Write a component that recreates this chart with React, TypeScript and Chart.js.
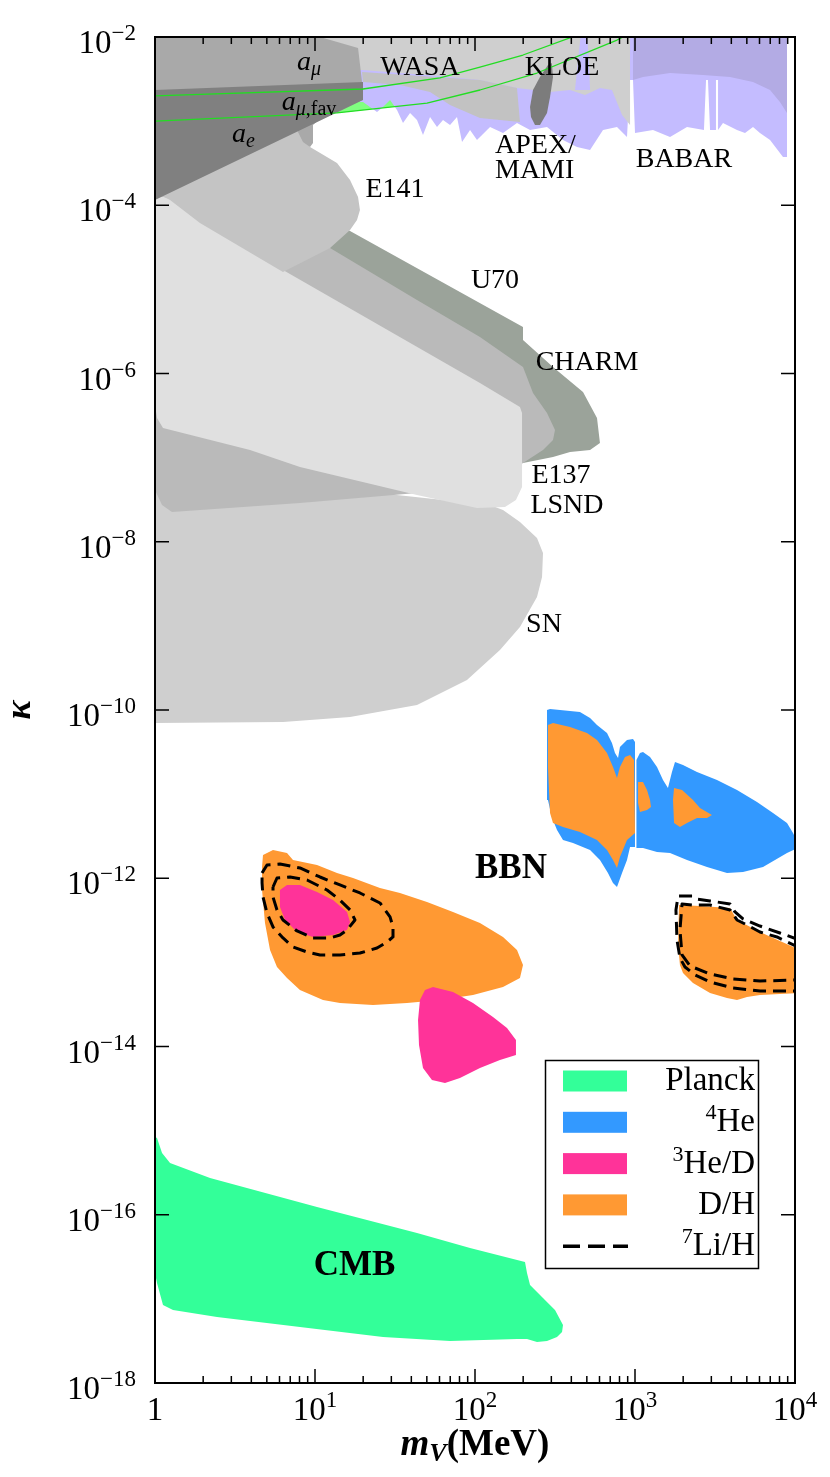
import React, { useEffect, useRef } from 'react';
import { Chart, registerables } from 'chart.js';

Chart.register(...registerables);

// Every point is [log10(m_V / MeV), log10(kappa)]
type P = [number, number];

// ---------- axes ----------
const X_MIN = 1;
const X_MAX = 1e4;
const Y_MIN = 1e-18;
const Y_MAX = 1e-2;
const X_TICK_EXP = [0, 1, 2, 3, 4];
const X_MINOR_MULT = [2, 3, 4, 5, 6, 7, 8, 9];
const Y_TICK_EXP = [-2, -4, -6, -8, -10, -12, -14, -16, -18];

// ---------- colours ----------
const C_PLANCK = '#33ff99';
const C_HE4 = '#3399ff';
const C_HE3 = '#ff3399';
const C_DH = '#ff9933';

// ---------- (g-2) bands ----------
const A_MU_FAV_UPPER: P[] = [[0, -2.701], [1.3, -2.618], [1.781, -2.487], [2.031, -2.357], [2.3, -2.214], [2.625, -1.988]];
const A_MU_FAV_LOWER: P[] = [[0, -3.0], [1.1375, -2.903], [1.7, -2.785], [2.031, -2.63], [2.3875, -2.428], [2.8875, -2.036], [2.9375, -1.988]];

const A_MU: P[] = [[0, -1.917], [0.9875, -1.976], [1.269, -2.131], [1.294, -2.535], [1.3, -2.749], [1.094, -2.868], [0.9875, -3.046], [0.9875, -3.26], [0.969, -3.308], [0.925, -3.248], [0.8875, -3.105], [0, -3.224]];
const A_E: P[] = [[0, -2.63], [1.3, -2.535], [1.3, -2.749], [0, -3.938]];

// ---------- collider / fixed-target searches ----------
const SEARCHES: P[] = [[1.281, -1.917], [3.95, -1.917], [3.95, -3.426], [3.925, -3.426], [3.844, -3.224], [3.781, -3.141], [3.7375, -3.07], [3.6875, -3.141], [3.6375, -3.105], [3.55, -3.022], [3.519, -3.105], [3.519, -2.511], [3.506, -2.511], [3.506, -3.105], [3.469, -3.105], [3.456, -2.511], [3.444, -2.511], [3.431, -3.105], [3.325, -3.07], [3.219, -3.189], [3.1125, -3.105], [3.0, -3.141], [2.9875, -2.511], [2.969, -2.511], [2.95, -3.189], [2.8875, -3.07], [2.8, -3.105], [2.719, -3.343], [2.6375, -3.308], [2.55, -3.224], [2.45, -3.07], [2.344, -3.105], [2.2625, -3.022], [2.175, -3.141], [2.094, -3.07], [2.0125, -3.224], [1.969, -3.105], [1.919, -3.248], [1.8875, -2.951], [1.844, -3.046], [1.8, -2.987], [1.7625, -3.07], [1.719, -2.951], [1.675, -3.165], [1.6375, -2.987], [1.594, -2.903], [1.55, -3.022], [1.5125, -2.868], [1.469, -2.749], [1.425, -2.832], [1.3875, -2.892], [1.3, -2.773], [1.281, -2.773]];
const WASA: P[] = [[0.906, -1.917], [2.969, -1.917], [2.969, -3.046], [2.919, -2.927], [2.856, -2.63], [2.781, -2.606], [2.6875, -2.689], [2.594, -2.63], [2.469, -2.654], [2.2625, -2.606], [2.031, -2.511], [1.781, -2.464], [1.531, -2.428], [1.294, -2.392], [0.906, -2.392]];
const WASA_LOW: P[] = [[1.294, -2.416], [2.031, -2.511], [2.2625, -2.606], [2.281, -3.01], [2.031, -2.963], [1.844, -2.808], [1.719, -2.654], [1.531, -2.571], [1.3, -2.535]];
const APEX_SPIKE: P[] = [[2.625, -2.63], [2.644, -2.273], [2.6625, -1.95], [2.7, -1.95], [2.7125, -2.333], [2.719, -2.63]];
const BABAR: P[] = [[2.9875, -1.917], [3.95, -1.917], [3.95, -2.903], [3.906, -2.773], [3.844, -2.63], [3.7375, -2.535], [3.594, -2.475], [3.425, -2.452], [3.219, -2.428], [3.05, -2.475], [2.9875, -2.511]];
const KLOE: P[] = [[2.48, -2.309], [2.4875, -2.475], [2.469, -2.713], [2.45, -2.903], [2.406, -3.046], [2.375, -3.046], [2.35, -2.951], [2.344, -2.832], [2.3625, -2.63], [2.406, -2.475], [2.456, -2.333]];

// ---------- beam dumps / supernova ----------
const SN: P[] = [[0, -10.155], [0.8, -10.143], [1.219, -10.083], [1.6375, -9.941], [1.95, -9.643], [2.156, -9.287], [2.281, -9.013], [2.3875, -8.657], [2.419, -8.419], [2.425, -8.134], [2.3875, -7.955], [2.281, -7.765], [2.175, -7.623], [2.094, -7.563], [1.219, -7.385], [0, -7.385]];
const U70: P[] = [[0.594, -3.759], [1.219, -4.306], [2.3, -5.447], [2.3, -5.602], [2.4875, -5.923], [2.675, -6.22], [2.7625, -6.529], [2.781, -6.826], [2.719, -6.909], [2.594, -6.933], [2.4875, -6.993], [2.3, -7.064], [1.531, -6.315], [0.594, -5.126]];
const E137: P[] = [[0, -3.581], [1.094, -4.508], [1.6375, -5.126], [2.031, -5.566], [2.3, -5.923], [2.3625, -6.232], [2.45, -6.47], [2.5, -6.672], [2.4875, -6.79], [2.425, -6.909], [2.3, -7.064], [2.156, -7.266], [1.6375, -7.42], [0.906, -7.539], [0.106, -7.646], [0.044, -7.563], [0, -7.385]];
const LSND: P[] = [[0, -3.878], [0.281, -3.997], [0.8, -4.77], [2.031, -6.113], [2.281, -6.398], [2.294, -6.47], [2.294, -7.349], [2.256, -7.504], [2.1875, -7.587], [2.0125, -7.599], [1.6375, -7.444], [0.906, -7.111], [0.594, -6.909], [0.05, -6.648], [0.0125, -6.529], [0, -6.374]];
const E141: P[] = [[0, -3.224], [0.594, -3.046], [0.8875, -3.082], [0.969, -3.308], [1.1375, -3.498], [1.219, -3.7], [1.269, -3.902], [1.281, -4.057], [1.2625, -4.175], [1.219, -4.294], [1.094, -4.508], [0.8, -4.793], [0.281, -4.211], [0.094, -3.938], [0.031, -3.878]];

// ---------- CMB ----------
const CMB: P[] = [[0, -15.076], [0.0125, -15.088], [0.044, -15.267], [0.094, -15.386], [0.344, -15.564], [1.0125, -15.908], [1.6375, -16.217], [1.969, -16.395], [2.3125, -16.562], [2.325, -16.693], [2.344, -16.835], [2.425, -16.99], [2.5, -17.132], [2.55, -17.31], [2.544, -17.394], [2.5125, -17.453], [2.45, -17.501], [2.3875, -17.513], [2.325, -17.477], [2.2625, -17.477], [1.844, -17.501], [1.425, -17.453], [0.906, -17.334], [0.3875, -17.215], [0.1125, -17.132], [0.05, -17.073], [0.0125, -16.811], [0, -16.693]];

// ---------- BBN: 4He ----------
const HE4_A: P[] = [[2.45, -10.0], [2.469, -9.988], [2.656, -10.024], [2.719, -10.095], [2.7625, -10.178], [2.825, -10.273], [2.856, -10.392], [2.875, -10.511], [2.894, -10.571], [2.906, -10.44], [2.95, -10.357], [2.9875, -10.345], [3.0, -10.38], [3.0, -11.629], [2.969, -11.629], [2.95, -11.783], [2.919, -11.938], [2.8875, -12.104], [2.8625, -12.056], [2.831, -11.938], [2.781, -11.783], [2.719, -11.664], [2.6125, -11.581], [2.55, -11.545], [2.5125, -11.426], [2.48, -11.272], [2.456, -11.07], [2.45, -10.677]];
const HE4_B: P[] = [[3.009, -10.594], [3.031, -10.511], [3.05, -10.499], [3.094, -10.559], [3.1375, -10.677], [3.175, -10.832], [3.206, -10.927], [3.231, -10.737], [3.25, -10.618], [3.3, -10.654], [3.3875, -10.737], [3.5125, -10.832], [3.6375, -10.951], [3.7625, -11.094], [3.8625, -11.224], [3.95, -11.343], [3.9875, -11.462], [4.03, -11.629], [3.95, -11.7], [3.8, -11.866], [3.675, -11.926], [3.575, -11.938], [3.45, -11.866], [3.325, -11.783], [3.219, -11.7], [3.1375, -11.688], [3.05, -11.64], [3.009, -11.64]];

// ---------- BBN: D/H ----------
const DH_A: P[] = [[2.456, -10.178], [2.4875, -10.155], [2.594, -10.202], [2.7, -10.273], [2.7625, -10.357], [2.825, -10.511], [2.8625, -10.677], [2.8875, -10.808], [2.906, -10.677], [2.9375, -10.559], [2.969, -10.535], [2.994, -10.594], [3.0, -11.462], [2.95, -11.545], [2.906, -11.747], [2.8875, -11.878], [2.8625, -11.783], [2.825, -11.664], [2.7625, -11.545], [2.656, -11.45], [2.55, -11.391], [2.4875, -11.343], [2.469, -11.224], [2.456, -10.677]];
const DH_B: P[] = [[3.019, -10.856], [3.05, -10.856], [3.075, -10.951], [3.094, -11.07], [3.1, -11.153], [3.075, -11.189], [3.031, -11.212], [3.019, -11.105]];
const DH_C: P[] = [[3.244, -10.927], [3.294, -10.951], [3.3625, -11.07], [3.406, -11.165], [3.481, -11.248], [3.45, -11.284], [3.3875, -11.284], [3.325, -11.343], [3.281, -11.391], [3.244, -11.343], [3.2375, -11.07]];
const DH_D: P[] = [[0.675, -11.724], [0.7375, -11.664], [0.825, -11.7], [0.8625, -11.783], [1.0125, -11.842], [1.1375, -11.938], [1.2375, -11.997], [1.406, -12.116], [1.531, -12.175], [1.7, -12.282], [1.8625, -12.401], [2.031, -12.532], [2.175, -12.698], [2.2625, -12.853], [2.3, -13.031], [2.281, -13.186], [2.175, -13.293], [1.9875, -13.388], [1.781, -13.447], [1.575, -13.483], [1.3625, -13.507], [1.156, -13.483], [1.05, -13.447], [0.906, -13.328], [0.825, -13.186], [0.7625, -13.055], [0.719, -12.853], [0.6875, -12.532], [0.669, -12.14], [0.669, -11.866]];
const DH_E: P[] = [[3.275, -12.318], [3.406, -12.33], [3.594, -12.354], [3.6375, -12.496], [3.781, -12.639], [4.03, -12.853], [4.03, -13.364], [3.781, -13.388], [3.7, -13.412], [3.6375, -13.447], [3.575, -13.423], [3.469, -13.364], [3.3625, -13.245], [3.3, -13.126], [3.281, -13.031], [3.269, -12.793]];

// ---------- BBN: 3He/D ----------
const HE3_A: P[] = [[0.781, -12.14], [0.825, -12.08], [0.906, -12.08], [1.0125, -12.164], [1.1125, -12.259], [1.2, -12.401], [1.219, -12.52], [1.2, -12.615], [1.1125, -12.675], [0.9875, -12.698], [0.8875, -12.639], [0.8125, -12.496], [0.781, -12.342]];
const HE3_B: P[] = [[1.6875, -13.328], [1.7375, -13.293], [1.8625, -13.352], [1.9875, -13.483], [2.1125, -13.649], [2.2, -13.78], [2.256, -13.923], [2.256, -14.101], [2.156, -14.16], [2.031, -14.255], [1.906, -14.374], [1.8125, -14.434], [1.731, -14.398], [1.675, -14.255], [1.65, -13.982], [1.644, -13.685], [1.656, -13.447]];

// ---------- BBN: 7Li/H contours ----------
const LI_A_OUTER: P[] = [[0.669, -11.938], [0.7, -11.842], [0.781, -11.831], [0.906, -11.878], [1.031, -11.985], [1.156, -12.08], [1.281, -12.175], [1.406, -12.294], [1.469, -12.46], [1.4875, -12.579], [1.4875, -12.698], [1.45, -12.758], [1.3875, -12.829], [1.281, -12.889], [1.156, -12.912], [1.031, -12.912], [0.95, -12.877], [0.8625, -12.817], [0.8, -12.71], [0.7375, -12.579], [0.7, -12.413], [0.675, -12.223], [0.669, -12.056]];
const LI_A_INNER: P[] = [[0.7375, -12.104], [0.7625, -11.997], [0.844, -11.985], [0.95, -12.021], [1.075, -12.14], [1.156, -12.259], [1.219, -12.377], [1.25, -12.496], [1.2, -12.615], [1.156, -12.675], [1.094, -12.71], [0.9875, -12.71], [0.8875, -12.627], [0.8, -12.496], [0.7625, -12.377], [0.7375, -12.223]];
const LI_B_OUTER: P[] = [[4.03, -12.734], [3.906, -12.651], [3.781, -12.568], [3.675, -12.484], [3.625, -12.401], [3.594, -12.306], [3.469, -12.27], [3.3875, -12.247], [3.3625, -12.211], [3.269, -12.211], [3.256, -12.377], [3.2625, -12.734], [3.281, -12.948], [3.3125, -13.055], [3.375, -13.15], [3.469, -13.233], [3.6125, -13.304], [3.781, -13.34], [4.03, -13.34]];
const LI_B_INNER: P[] = [[4.03, -12.829], [3.8875, -12.698], [3.781, -12.639], [3.7, -12.556], [3.6375, -12.496], [3.594, -12.377], [3.469, -12.318], [3.3625, -12.318], [3.294, -12.306], [3.281, -12.615], [3.294, -12.912], [3.344, -13.043], [3.469, -13.138], [3.6125, -13.197], [3.781, -13.221], [4.03, -13.209]];

// ---------- text ----------
const FAMILY = '"Liberation Serif", "Times New Roman", Times, serif';
type Run = { t: string; size: number; style?: string; weight?: string; dy?: number };
const ANN = 28;
const SUBS = 20;
const rm = (t: string): Run => ({ t, size: ANN });
const it = (t: string): Run => ({ t, size: ANN, style: 'italic' });
const subIt = (t: string): Run => ({ t, size: SUBS, style: 'italic', dy: 5 });
const subRm = (t: string): Run => ({ t, size: SUBS, dy: 5 });
const bd = (t: string): Run => ({ t, size: 35, weight: 'bold' });

// anchors: [log10 m, log10 kappa] of the text baseline
const LABELS: { runs: Run[]; at: P; align: 'left' | 'center' }[] = [
  { runs: [it('a'), subIt('μ')], at: [0.963, -2.392], align: 'center' },
  { runs: [rm('WASA')], at: [1.656, -2.452], align: 'center' },
  { runs: [it('a'), subIt('μ'), subRm(',fav')], at: [0.9625, -2.868], align: 'center' },
  { runs: [it('a'), subIt('e')], at: [0.553, -3.248], align: 'center' },
  { runs: [rm('KLOE')], at: [2.544, -2.452], align: 'center' },
  { runs: [rm('APEX/')], at: [2.125, -3.379], align: 'left' },
  { runs: [rm('MAMI')], at: [2.125, -3.676], align: 'left' },
  { runs: [rm('BABAR')], at: [3.306, -3.545], align: 'center' },
  { runs: [rm('E141')], at: [1.5, -3.902], align: 'center' },
  { runs: [rm('U70')], at: [2.125, -4.984], align: 'center' },
  { runs: [rm('CHARM')], at: [2.7, -5.958], align: 'center' },
  { runs: [rm('E137')], at: [2.5375, -7.302], align: 'center' },
  { runs: [rm('LSND')], at: [2.575, -7.658], align: 'center' },
  { runs: [rm('SN')], at: [2.431, -9.073], align: 'center' },
  { runs: [bd('BBN')], at: [2.225, -12.0], align: 'center' },
  { runs: [bd('CMB')], at: [1.247, -16.716], align: 'center' },
];

const LEGEND_ITEMS: { sup: string; text: string; color: string; dashed: boolean }[] = [
  { sup: '', text: 'Planck', color: C_PLANCK, dashed: false },
  { sup: '4', text: 'He', color: C_HE4, dashed: false },
  { sup: '3', text: 'He/D', color: C_HE3, dashed: false },
  { sup: '', text: 'D/H', color: C_DH, dashed: false },
  { sup: '7', text: 'Li/H', color: '#000000', dashed: true },
];

const fontOf = (r: Run) => `${r.style ?? 'normal'} ${r.weight ?? 'normal'} ${r.size}px ${FAMILY}`;

function drawRuns(ctx: CanvasRenderingContext2D, runs: Run[], x: number, y: number, align: 'left' | 'center' | 'right') {
  ctx.textAlign = 'left';
  ctx.textBaseline = 'alphabetic';
  const widths = runs.map((r) => {
    ctx.font = fontOf(r);
    return ctx.measureText(r.t).width;
  });
  const total = widths.reduce((a, b) => a + b, 0);
  let cx = align === 'center' ? x - total / 2 : align === 'right' ? x - total : x;
  runs.forEach((r, i) => {
    ctx.font = fontOf(r);
    ctx.fillText(r.t, cx, y + (r.dy ?? 0));
    cx += widths[i];
  });
}

const toXY = (pts: P[], close: boolean) => {
  const out = pts.map(([lx, ly]) => ({ x: Math.pow(10, lx), y: Math.pow(10, ly) }));
  if (close) out.push({ ...out[0] });
  return out;
};

const area = (label: string, pts: P[], color: string) => ({
  label,
  data: toXY(pts, true),
  showLine: true,
  fill: 'shape',
  backgroundColor: color,
  borderColor: 'rgba(0,0,0,0)',
  borderWidth: 0,
  pointRadius: 0,
  pointHoverRadius: 0,
  pointHitRadius: 0,
  tension: 0,
  clip: 0,
});

const curve = (label: string, pts: P[], color: string, width: number, dash: number[], close: boolean) => ({
  label,
  data: toXY(pts, close),
  showLine: true,
  fill: false,
  backgroundColor: color,
  borderColor: color,
  borderWidth: width,
  borderDash: dash,
  borderCapStyle: 'butt',
  borderJoinStyle: 'round',
  pointRadius: 0,
  pointHoverRadius: 0,
  pointHitRadius: 0,
  tension: 0,
  clip: 0,
});

// bottom layer first
const LAYERS = [
  area('a_mu favoured', [...A_MU_FAV_UPPER, ...[...A_MU_FAV_LOWER].reverse()], '#80ff80'),
  area('APEX/MAMI/BABAR', SEARCHES, '#c4bcff'),
  area('WASA', WASA, '#cfcfcf'),
  area('WASA (lower)', WASA_LOW, '#c2c2c2'),
  area('APEX spike', APEX_SPIKE, '#c4bcff'),
  area('BABAR', BABAR, '#b3abe4'),
  area('KLOE', KLOE, '#7c7c7c'),
  area('SN', SN, '#cfcfcf'),
  area('U70', U70, '#9ba39a'),
  area('E137', E137, '#bababa'),
  area('LSND', LSND, '#e0e0e0'),
  area('E141', E141, '#c4c4c4'),
  area('a_mu', A_MU, '#a9a9a9'),
  area('a_e', A_E, '#808080'),
  area('Planck', CMB, C_PLANCK),
  area('4He', HE4_A, C_HE4),
  area('4He', HE4_B, C_HE4),
  area('D/H', DH_A, C_DH),
  area('D/H', DH_B, C_DH),
  area('D/H', DH_C, C_DH),
  area('D/H', DH_D, C_DH),
  area('D/H', DH_E, C_DH),
  area('3He/D', HE3_A, C_HE3),
  area('3He/D', HE3_B, C_HE3),
  curve('7Li/H', LI_A_OUTER, '#000000', 3, [13, 7], true),
  curve('7Li/H', LI_A_INNER, '#000000', 3, [13, 7], true),
  curve('7Li/H', LI_B_OUTER, '#000000', 3, [13, 7], false),
  curve('7Li/H', LI_B_INNER, '#000000', 3, [13, 7], false),
  curve('a_mu band edge', A_MU_FAV_UPPER, '#22dd22', 1.3, [], false),
  curve('a_mu band edge', A_MU_FAV_LOWER, '#22dd22', 1.3, [], false),
];

const decorations = {
  id: 'decorations',
  afterDraw(chart: any) {
    const ctx: CanvasRenderingContext2D = chart.ctx;
    const a = chart.chartArea;
    const xs = chart.scales.x;
    const ys = chart.scales.y;
    ctx.save();
    ctx.fillStyle = '#000';
    ctx.strokeStyle = '#000';

    // ticks (inward)
    ctx.lineWidth = 1.5;
    ctx.beginPath();
    X_TICK_EXP.forEach((e) => {
      const px = xs.getPixelForValue(Math.pow(10, e));
      ctx.moveTo(px, a.bottom); ctx.lineTo(px, a.bottom - 14);
      ctx.moveTo(px, a.top); ctx.lineTo(px, a.top + 14);
      if (e < X_TICK_EXP[X_TICK_EXP.length - 1]) {
        X_MINOR_MULT.forEach((k) => {
          const mx = xs.getPixelForValue(k * Math.pow(10, e));
          ctx.moveTo(mx, a.bottom); ctx.lineTo(mx, a.bottom - 7);
          ctx.moveTo(mx, a.top); ctx.lineTo(mx, a.top + 7);
        });
      }
    });
    Y_TICK_EXP.forEach((e) => {
      const py = ys.getPixelForValue(Math.pow(10, e));
      ctx.moveTo(a.left, py); ctx.lineTo(a.left + 14, py);
      ctx.moveTo(a.right, py); ctx.lineTo(a.right - 14, py);
    });
    ctx.stroke();

    // frame
    ctx.lineWidth = 2;
    ctx.strokeRect(a.left, a.top, a.right - a.left, a.bottom - a.top);

    // tick labels
    const base = 33;
    const sup = 23;
    X_TICK_EXP.forEach((e) => {
      const px = xs.getPixelForValue(Math.pow(10, e));
      const runs: Run[] = e === 0 ? [{ t: '1', size: base }] : [{ t: '10', size: base }, { t: String(e), size: sup, dy: -13 }];
      drawRuns(ctx, runs, px, a.bottom + 37, 'center');
    });
    Y_TICK_EXP.forEach((e) => {
      const py = ys.getPixelForValue(Math.pow(10, e));
      drawRuns(ctx, [{ t: '10', size: base }, { t: '−' + String(-e), size: sup, dy: -13 }], a.left - 19, py + 16, 'right');
    });

    // axis titles
    drawRuns(ctx, [
      { t: 'm', size: 37, style: 'italic', weight: 'bold' },
      { t: 'V', size: 26, style: 'italic', weight: 'bold', dy: 6 },
      { t: '(MeV)', size: 37, weight: 'bold' },
    ], (a.left + a.right) / 2, a.bottom + 72, 'center');
    ctx.save();
    ctx.translate(21, (a.top + a.bottom) / 2);
    ctx.rotate(-Math.PI / 2);
    ctx.font = `italic bold 36px ${FAMILY}`;
    ctx.textAlign = 'center';
    ctx.textBaseline = 'middle';
    ctx.fillText('κ', 0, 0);
    ctx.restore();

    // in-plot labels
    LABELS.forEach((l) => {
      const px = xs.getPixelForValue(Math.pow(10, l.at[0]));
      const py = ys.getPixelForValue(Math.pow(10, l.at[1]));
      drawRuns(ctx, l.runs, px, py, l.align);
    });

    // legend box
    const lx0 = 545, ly0 = 1060, lw = 213, lh = 208;
    ctx.fillStyle = '#ffffff';
    ctx.fillRect(lx0, ly0, lw, lh);
    ctx.lineWidth = 1.5;
    ctx.strokeStyle = '#000';
    ctx.strokeRect(lx0 + 0.5, ly0 + 0.5, lw, lh);
    LEGEND_ITEMS.forEach((item, i) => {
      const cy = ly0 + 21 + i * 41.3;
      if (item.dashed) {
        ctx.save();
        ctx.lineWidth = 3.5;
        ctx.setLineDash([17, 8]);
        ctx.beginPath();
        ctx.moveTo(563, cy);
        ctx.lineTo(628, cy);
        ctx.stroke();
        ctx.restore();
      } else {
        ctx.fillStyle = item.color;
        ctx.fillRect(563, cy - 10.5, 64, 21);
      }
      ctx.fillStyle = '#000';
      const runs: Run[] = [];
      if (item.sup) runs.push({ t: item.sup, size: 22, dy: -12 });
      runs.push({ t: item.text, size: 33 });
      drawRuns(ctx, runs, 755, cy + 9, 'right');
    });
    ctx.restore();
  },
};

export default function App() {
  const ref = useRef<HTMLCanvasElement | null>(null);
  useEffect(() => {
    const canvas = ref.current;
    if (!canvas) return;
    const chart = new Chart(canvas, {
      type: 'scatter',
      data: { datasets: [...LAYERS].reverse() as any },
      options: {
        responsive: false,
        animation: false,
        devicePixelRatio: 1,
        events: [],
        layout: { padding: { left: 155, right: 35, top: 37, bottom: 94 } },
        scales: {
          x: { type: 'logarithmic', min: X_MIN, max: X_MAX, display: false },
          y: { type: 'logarithmic', min: Y_MIN, max: Y_MAX, display: false },
        },
        plugins: { legend: { display: false }, tooltip: { enabled: false } },
      } as any,
      plugins: [decorations],
    });
    return () => chart.destroy();
  }, []);
  return (
    <div style={{ position: 'absolute', left: 0, top: 0, width: 830, height: 1477, background: '#ffffff' }}>
      <canvas ref={ref} width={830} height={1477} style={{ width: 830, height: 1477, display: 'block' }} />
    </div>
  );
}
